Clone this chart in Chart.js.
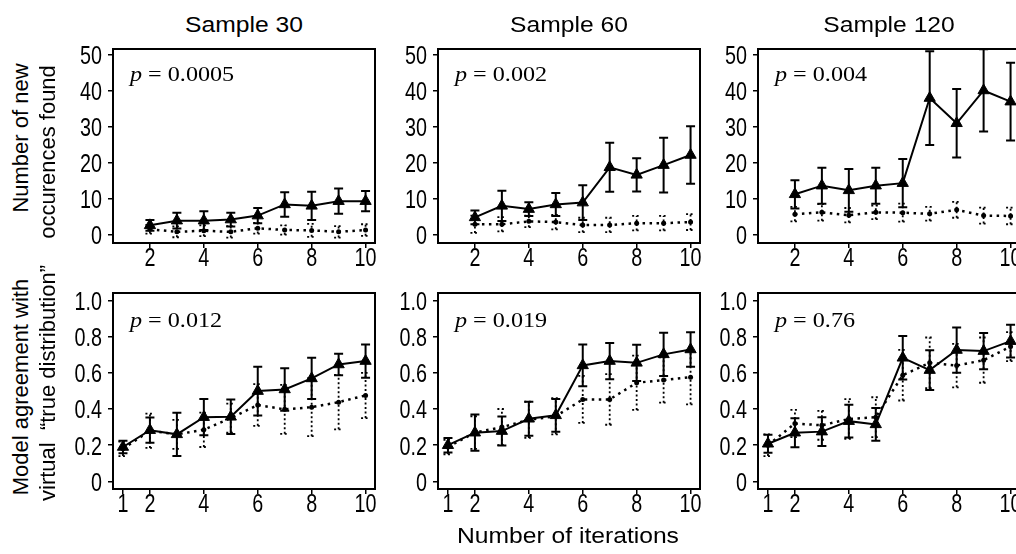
<!DOCTYPE html>
<html>
<head>
<meta charset="utf-8">
<script src="https://cdn.jsdelivr.net/npm/chart.js@4"></script>
<style>
  html, body { margin: 0; padding: 0; overflow: hidden; background: #fff; width: 1016px; height: 554px; }
  .panel { position: absolute; }
  .label {
    position: absolute;
    font-family: "Liberation Sans", Arial, sans-serif;
    font-size: 22px;
    line-height: 22px;
    white-space: pre;
    color: #000;
  }
</style>
</head>
<body>
<script>
// iterations on the x axis
const topIterations = [2, 3, 4, 5, 6, 7, 8, 9, 10];
const bottomIterations = [1, 2, 3, 4, 5, 6, 7, 8, 9, 10];
const topXTicks = [2, 4, 6, 8, 10];
const bottomXTicks = [1, 2, 4, 6, 8, 10];
const topYTicks = [0, 10, 20, 30, 40, 50];
const bottomYTicks = [0, 0.2, 0.4, 0.6, 0.8, 1.0];
const bottomYLabels = ["0", "0.2", "0.4", "0.6", "0.8", "1.0"];

const sampleTitles = ["Sample 30", "Sample 60", "Sample 120"];
const topPValues = ["0.0005", "0.002", "0.004"];
const bottomPValues = ["0.012", "0.019", "0.76"];

// number of new occurences found (solid = triangles, dotted = dots)
const foundSolid30 = [2.7, 4.0, 4.0, 4.3, 5.4, 8.5, 8.1, 9.4, 9.4];
const foundSolidErr30 = [1.5, 2.2, 2.6, 1.9, 2.1, 3.4, 3.9, 3.5, 2.8];
const foundDotted30 = [1.6, 0.9, 1.2, 0.9, 1.9, 1.4, 1.3, 0.9, 1.4];
const foundDottedErr30 = [1.2, 1.5, 1.5, 1.6, 1.5, 1.3, 1.8, 1.6, 1.6];

const foundSolid60 = [4.9, 8.1, 7.2, 8.5, 9.0, 18.8, 16.7, 19.4, 22.2];
const foundSolidErr60 = [1.9, 4.2, 1.9, 3.2, 4.8, 6.8, 4.6, 7.6, 8.0];
const foundDotted60 = [3.0, 3.0, 3.8, 3.6, 2.8, 2.8, 3.3, 3.3, 3.6];
const foundDottedErr60 = [2.4, 2.0, 1.6, 2.0, 2.0, 2.0, 2.0, 2.0, 2.2];

const foundSolid120 = [11.3, 13.7, 12.4, 13.7, 14.4, 38.0, 31.0, 40.1, 37.0];
const foundSolidErr120 = [3.9, 5.0, 5.9, 5.0, 6.7, 13.0, 9.5, 11.4, 10.8];
const foundDotted120 = [5.8, 6.3, 5.5, 6.3, 6.2, 5.9, 7.0, 5.4, 5.3];
const foundDottedErr120 = [2.0, 2.3, 2.0, 1.9, 2.5, 1.9, 2.2, 2.2, 2.3];

// model agreement with virtual "true distribution"
const agreeSolid30 = [0.19, 0.283, 0.26, 0.355, 0.357, 0.499, 0.508, 0.569, 0.646, 0.665];
const agreeSolidErr30 = [0.035, 0.07, 0.12, 0.1, 0.095, 0.135, 0.117, 0.114, 0.06, 0.092];
const agreeDotted30 = [0.18, 0.28, 0.26, 0.285, 0.35, 0.422, 0.398, 0.41, 0.438, 0.475];
const agreeDottedErr30 = [0.04, 0.095, 0.08, 0.095, 0.08, 0.115, 0.135, 0.16, 0.15, 0.125];

const agreeSolid60 = [0.2, 0.269, 0.278, 0.346, 0.365, 0.641, 0.665, 0.655, 0.702, 0.729];
const agreeSolidErr60 = [0.04, 0.1, 0.08, 0.094, 0.09, 0.115, 0.1, 0.1, 0.12, 0.095];
const agreeDotted60 = [0.19, 0.27, 0.3, 0.34, 0.36, 0.453, 0.453, 0.545, 0.56, 0.576];
const agreeDottedErr60 = [0.04, 0.09, 0.1, 0.1, 0.1, 0.13, 0.14, 0.15, 0.125, 0.15];

const agreeSolid120 = [0.208, 0.269, 0.275, 0.333, 0.315, 0.683, 0.615, 0.726, 0.72, 0.775];
const agreeSolidErr120 = [0.05, 0.08, 0.08, 0.09, 0.09, 0.12, 0.11, 0.125, 0.1, 0.09];
const agreeDotted120 = [0.2, 0.32, 0.31, 0.345, 0.355, 0.587, 0.655, 0.64, 0.67, 0.745];
const agreeDottedErr120 = [0.06, 0.075, 0.08, 0.11, 0.11, 0.14, 0.14, 0.12, 0.125, 0.08];

// layout
const AXIS_W = 60;
const PAD_TOP = 10;
const PAD_RIGHT = 14;
const X_AXIS_H = 34;
const BOX_W = 262;
const boxLefts = [113, 438, 758];
const TICK_FONT = "26px 'Liberation Sans', Arial, sans-serif";
const TICK_SQUEEZE = 0.76;

const errorBars = {
  id: "errorBars",
  beforeDatasetsDraw(chart) {
    const ctx = chart.ctx;
    const area = chart.chartArea;
    const xs = chart.scales.x;
    const ys = chart.scales.y;
    ctx.save();
    ctx.beginPath();
    ctx.rect(area.left, area.top, area.width, area.height);
    ctx.clip();
    chart.data.datasets.forEach((ds) => {
      ctx.strokeStyle = "#000";
      ctx.lineWidth = ds.errWidth;
      ctx.setLineDash(ds.errDash);
      ds.data.forEach((pt, i) => {
        const x = xs.getPixelForValue(pt.x);
        const lo = ys.getPixelForValue(pt.y - ds.errors[i]);
        const hi = ys.getPixelForValue(pt.y + ds.errors[i]);
        ctx.beginPath();
        ctx.moveTo(x, lo);
        ctx.lineTo(x, hi);
        ctx.moveTo(x - 4.5, lo);
        ctx.lineTo(x + 4.5, lo);
        ctx.moveTo(x - 4.5, hi);
        ctx.lineTo(x + 4.5, hi);
        ctx.stroke();
      });
    });
    ctx.restore();
  },
};

// tick labels are squeezed sideways like the original figure
const tickLabels = {
  id: "tickLabels",
  afterDraw(chart, args, opts) {
    const ctx = chart.ctx;
    const area = chart.chartArea;
    const xs = chart.scales.x;
    const ys = chart.scales.y;
    ctx.save();
    ctx.fillStyle = "#000";
    ctx.font = TICK_FONT;
    ctx.textBaseline = "alphabetic";
    ctx.textAlign = "center";
    xs.ticks.forEach((t) => {
      ctx.save();
      ctx.translate(xs.getPixelForValue(t.value), area.bottom + 22.5);
      ctx.scale(TICK_SQUEEZE, 1);
      ctx.fillText(String(t.value), 0, 0);
      ctx.restore();
    });
    ctx.textAlign = "right";
    ys.ticks.forEach((t, i) => {
      ctx.save();
      ctx.translate(area.left - 11, ys.getPixelForValue(t.value) + 9.3);
      ctx.scale(TICK_SQUEEZE, 1);
      ctx.fillText(opts.yLabels[i], 0, 0);
      ctx.restore();
    });
    ctx.restore();
  },
};

const frameAndP = {
  id: "frameAndP",
  afterDraw(chart, args, opts) {
    const ctx = chart.ctx;
    const area = chart.chartArea;
    ctx.save();
    ctx.strokeStyle = "#000";
    ctx.lineWidth = 2;
    ctx.setLineDash([]);
    ctx.strokeRect(area.left, area.top, area.width, area.height);

    ctx.translate(area.left + 17, area.top + opts.pTop);
    ctx.scale(1.15, 1);
    ctx.fillStyle = "#000";
    ctx.textBaseline = "alphabetic";
    ctx.font = "italic 21px 'Liberation Serif', 'Times New Roman', serif";
    ctx.fillText("p", 0, 0);
    const w = ctx.measureText("p").width;
    ctx.font = "21px 'Liberation Serif', 'Times New Roman', serif";
    ctx.fillText(" = " + opts.p, w, 0);
    ctx.restore();
  },
};

function toPoints(xs, ys) {
  return xs.map((x, i) => ({ x: x, y: ys[i] }));
}

function createPanel(cfg) {
  const wrap = document.createElement("div");
  wrap.className = "panel";
  const w = AXIS_W + BOX_W + PAD_RIGHT;
  const h = PAD_TOP + cfg.boxH + X_AXIS_H;
  wrap.style.left = cfg.boxLeft - AXIS_W + "px";
  wrap.style.top = cfg.boxTop - PAD_TOP + "px";
  const canvas = document.createElement("canvas");
  canvas.width = w;
  canvas.height = h;
  wrap.appendChild(canvas);
  document.body.appendChild(wrap);

  return new Chart(canvas, {
    type: "line",
    data: {
      datasets: [
        {
          data: toPoints(cfg.iterations, cfg.dotted),
          errors: cfg.dottedErr,
          errWidth: 1.8,
          errDash: [2, 2.5],
          borderColor: "#000",
          backgroundColor: "#000",
          borderWidth: 2.5,
          borderDash: [2.5, 4.5],
          pointStyle: "circle",
          pointRadius: 2.5,
          pointBorderWidth: 0,
          tension: 0,
        },
        {
          data: toPoints(cfg.iterations, cfg.solid),
          errors: cfg.solidErr,
          errWidth: 2,
          errDash: [],
          borderColor: "#000",
          backgroundColor: "#000",
          borderWidth: 2,
          pointStyle: "triangle",
          pointRadius: 6.5,
          pointBorderWidth: 1,
          tension: 0,
        },
      ],
    },
    options: {
      responsive: false,
      animation: false,
      events: [],
      layout: { padding: { top: PAD_TOP, right: PAD_RIGHT, left: 0, bottom: 0 } },
      plugins: {
        legend: { display: false },
        tooltip: { enabled: false },
        frameAndP: { p: cfg.p, pTop: cfg.pTop },
        tickLabels: { yLabels: cfg.yLabels },
      },
      scales: {
        x: {
          type: "linear",
          min: 0.63,
          max: 10.35,
          afterBuildTicks: (s) => {
            s.ticks = cfg.xTicks.map((v) => ({ value: v }));
          },
          afterFit: (s) => {
            s.height = X_AXIS_H;
          },
          grid: { drawOnChartArea: false, drawTicks: true, tickLength: 5, color: "#000", lineWidth: 1.5 },
          border: { display: false },
          ticks: { display: false, autoSkip: false },
        },
        y: {
          type: "linear",
          min: cfg.yMin,
          max: cfg.yMax,
          afterBuildTicks: (s) => {
            s.ticks = cfg.yTicks.map((v) => ({ value: v }));
          },
          afterFit: (s) => {
            s.width = AXIS_W;
          },
          grid: { drawOnChartArea: false, drawTicks: true, tickLength: 5, color: "#000", lineWidth: 1.5 },
          border: { display: false },
          ticks: { display: false, autoSkip: false },
        },
      },
    },
    plugins: [errorBars, frameAndP, tickLabels],
  });
}

function addLabel(text, cx, cy, rotate) {
  const el = document.createElement("div");
  el.className = "label";
  el.textContent = text;
  el.style.left = cx + "px";
  el.style.top = cy + "px";
  el.style.transform = rotate
    ? "translate(-50%, -50%) rotate(-90deg)"
    : "translate(-50%, -50%) scaleX(1.12)";
  document.body.appendChild(el);
}

const topSolid = [foundSolid30, foundSolid60, foundSolid120];
const topSolidErr = [foundSolidErr30, foundSolidErr60, foundSolidErr120];
const topDotted = [foundDotted30, foundDotted60, foundDotted120];
const topDottedErr = [foundDottedErr30, foundDottedErr60, foundDottedErr120];
const bottomSolid = [agreeSolid30, agreeSolid60, agreeSolid120];
const bottomSolidErr = [agreeSolidErr30, agreeSolidErr60, agreeSolidErr120];
const bottomDotted = [agreeDotted30, agreeDotted60, agreeDotted120];
const bottomDottedErr = [agreeDottedErr30, agreeDottedErr60, agreeDottedErr120];

for (let i = 0; i < 3; i++) {
  createPanel({
    boxLeft: boxLefts[i],
    boxTop: 49,
    boxH: 194,
    iterations: topIterations,
    solid: topSolid[i],
    solidErr: topSolidErr[i],
    dotted: topDotted[i],
    dottedErr: topDottedErr[i],
    xTicks: topXTicks,
    yTicks: topYTicks,
    yLabels: topYTicks.map(String),
    yMin: -2.2,
    yMax: 51.6,
    p: topPValues[i],
    pTop: 32,
  });
  createPanel({
    boxLeft: boxLefts[i],
    boxTop: 293,
    boxH: 196,
    iterations: bottomIterations,
    solid: bottomSolid[i],
    solidErr: bottomSolidErr[i],
    dotted: bottomDotted[i],
    dottedErr: bottomDottedErr[i],
    xTicks: bottomXTicks,
    yTicks: bottomYTicks,
    yLabels: bottomYLabels,
    yMin: -0.042,
    yMax: 1.041,
    p: bottomPValues[i],
    pTop: 34,
  });
  addLabel(sampleTitles[i], boxLefts[i] + BOX_W / 2, 24.5, false);
}

addLabel("Number of iterations", 568, 535.5, false);
addLabel("Number of new", 20.5, 138, true);
addLabel("occurences found", 47.5, 152, true);
addLabel("Model agreement with", 20.5, 387, true);
addLabel("virtual  \u201ctrue distribution\u201d", 47.5, 383, true);
</script>
</body>
</html>
